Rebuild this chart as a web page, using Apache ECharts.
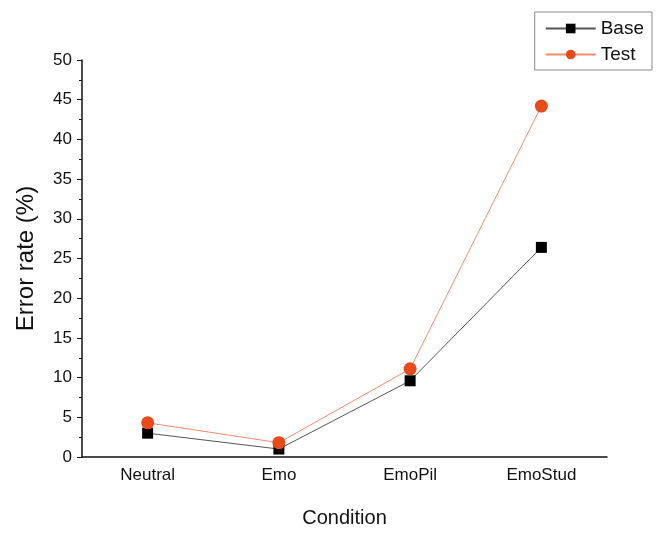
<!DOCTYPE html>
<html><head><meta charset="utf-8">
<script src="https://cdn.jsdelivr.net/npm/echarts@6/dist/echarts.min.js"></script>
<style>html,body{margin:0;padding:0;background:#fff}#c{width:662px;height:533px}</style>
</head><body><div id="c"></div>
<script>
var categories = ['Neutral', 'Emo', 'EmoPil', 'EmoStud'];
var baseValues = [3.0, 1.0, 9.6, 26.4];
var testValues = [4.3, 1.8, 11.1, 44.2];
var yTicks = [0, 5, 10, 15, 20, 25, 30, 35, 40, 45, 50];

var chart = echarts.init(document.getElementById('c'));
var font = 'Liberation Sans, Arial, sans-serif';
chart.setOption({
  animation: false,
  textStyle: {fontFamily: font},
  grid: {left: 82, right: 55, top: 60, bottom: 61},
  legend: {
    orient: 'vertical', right: 10, top: 12,
    borderColor: '#888', borderWidth: 1, padding: [7, 8, 6, 10],
    itemWidth: 50, itemHeight: 12, itemGap: 7,
    textStyle: {fontFamily: font, fontSize: 19, color: '#111'},
    data: ['Base', 'Test']
  },
  xAxis: {
    type: 'category', data: categories, boundaryGap: true,
    name: 'Condition', nameLocation: 'middle', nameGap: 51,
    nameTextStyle: {fontFamily: font, fontSize: 20, color: '#111'},
    axisLine: {lineStyle: {color: '#111', width: 1.5}},
    axisTick: {alignWithLabel: true, length: 6, lineStyle: {color: '#111'}},
    axisLabel: {fontFamily: font, fontSize: 17, color: '#111', margin: 10},
    splitLine: {show: false}
  },
  yAxis: {
    type: 'value', min: yTicks[0], max: yTicks[yTicks.length - 1], interval: 5,
    name: 'Error rate (%)', nameLocation: 'middle', nameGap: 44,
    nameTextStyle: {fontFamily: font, fontSize: 24, color: '#111'},
    axisLine: {show: true, lineStyle: {color: '#111', width: 1.5}},
    axisTick: {show: true, length: 5, lineStyle: {color: '#111'}},
    minorTick: {show: true, splitNumber: 2, length: 3, lineStyle: {color: '#111'}},
    axisLabel: {fontFamily: font, fontSize: 17, color: '#111', margin: 10},
    splitLine: {show: false}
  },
  series: [
    {
      name: 'Base', type: 'line', data: baseValues,
      symbol: 'rect', symbolSize: 11,
      itemStyle: {color: '#000'},
      lineStyle: {color: '#555', width: 1}
    },
    {
      name: 'Test', type: 'line', data: testValues,
      symbol: 'circle', symbolSize: 13,
      itemStyle: {color: '#e84a1a'},
      lineStyle: {color: '#f28a6e', width: 1}
    }
  ]
});
</script></body></html>
